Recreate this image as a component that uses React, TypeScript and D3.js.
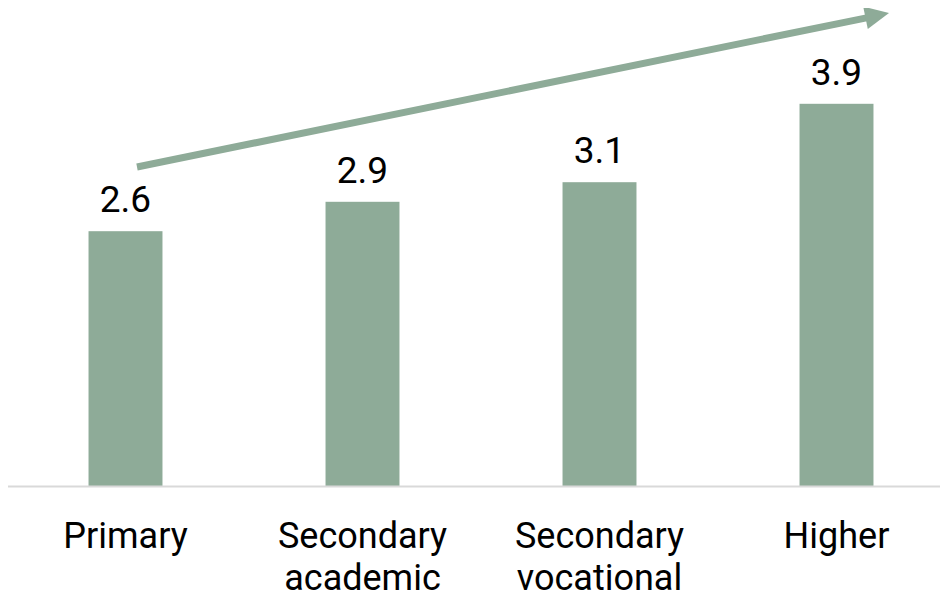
import React from "react";
import * as d3 from "d3";

const categories: string[][] = [["Primary"], ["Secondary", "academic"], ["Secondary", "vocational"], ["Higher"]];
const values: number[] = [2.6, 2.9, 3.1, 3.9];
const valueLabels: string[] = ["2.6", "2.9", "3.1", "3.9"];

const W = 948;
const H = 599;
const BAR = "#8eab98";

export default function App() {
  const keys = categories.map((c) => c.join(" "));
  const x = d3.scaleBand<string>().domain(keys).range([7, 955]).paddingInner(0.688).paddingOuter(0.344);
  const y = d3.scaleLinear().domain([0, 4]).range([486, 94]);

  // trend arrow
  const sx = 137, sy = 167;
  const tx = 889, ty = 13;
  const ang = Math.atan2(ty - sy, tx - sx);
  const headLen = 24, headHalf = 11.5;
  const bx = tx - headLen * Math.cos(ang), by = ty - headLen * Math.sin(ang);
  const px = -Math.sin(ang), py = Math.cos(ang);
  const head = `M${tx},${ty}L${bx + px * headHalf},${by + py * headHalf}L${bx - px * headHalf},${by - py * headHalf}Z`;

  return (
    <div style={{ margin: -8 }}>
      <svg width={W} height={H} style={{ display: "block" }} fontFamily="Roboto, sans-serif">
        <rect width={W} height={H} fill="#ffffff" />
        {keys.map((k, i) => (
          <rect key={k} x={x(k)} y={y(values[i])} width={x.bandwidth()} height={y(0) - y(values[i])} fill={BAR} />
        ))}
        <line x1={7} x2={W} y1={486.5} y2={486.5} stroke="#d9d9d9" strokeWidth={2} />
        {keys.map((k, i) => (
          <text key={"v" + k} x={x(k)! + x.bandwidth() / 2} y={y(values[i]) - 19} textAnchor="middle" fontSize={37} fill="#000">
            {valueLabels[i]}
          </text>
        ))}
        {categories.map((lines, i) => (
          <text key={"c" + i} x={x(keys[i])! + x.bandwidth() / 2} y={548} textAnchor="middle" fontSize={36} fill="#000">
            {lines.map((l, j) => (
              <tspan key={j} x={x(keys[i])! + x.bandwidth() / 2} dy={j === 0 ? 0 : 42}>{l}</tspan>
            ))}
          </text>
        ))}
        <line x1={sx} y1={sy} x2={bx + 1} y2={by} stroke={BAR} strokeWidth={7} />
        <path d={head} fill={BAR} />
      </svg>
    </div>
  );
}
